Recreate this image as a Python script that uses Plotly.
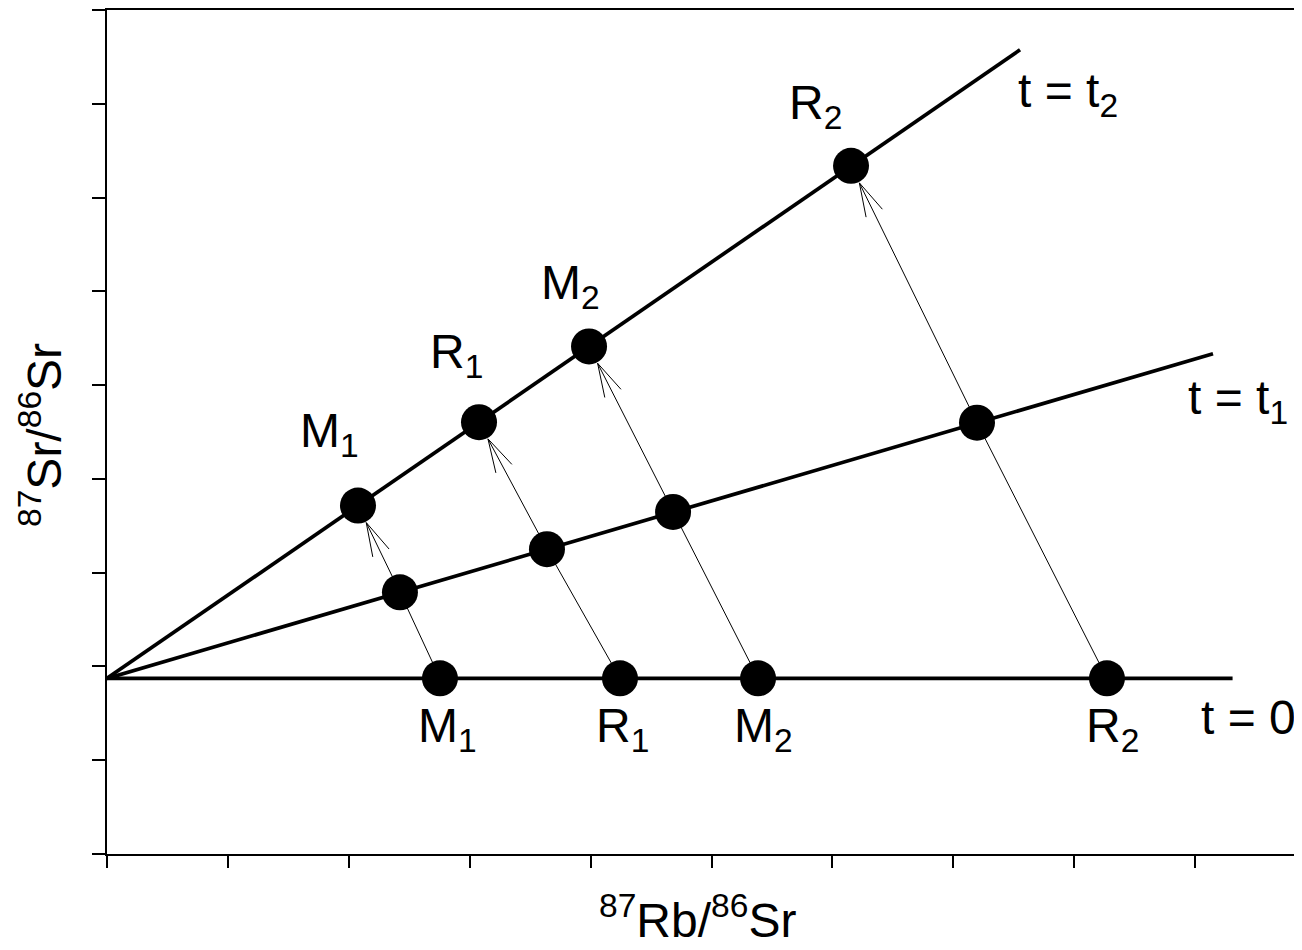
import math
import plotly.graph_objects as go

# ---------------- data ----------------
mineral_labels = ["M<sub>1</sub>", "R<sub>1</sub>", "M<sub>2</sub>", "R<sub>2</sub>"]
rb_t0 = [2.754, 4.243, 5.385, 8.271]
sr_t0 = [1.873, 1.873, 1.873, 1.873]
rb_t1 = [2.423, 3.639, 4.682, 7.196]
sr_t1 = [2.791, 3.251, 3.647, 4.599]
rb_t2 = [2.076, 3.077, 3.987, 6.154]
sr_t2 = [3.716, 4.605, 5.413, 7.338]

iso_labels = ["t = 0", "t = t<sub>1</sub>", "t = t<sub>2</sub>"]
iso_x_start = [0.0, 0.0, 0.0]
iso_y_start = [1.873, 1.873, 1.873]
iso_x_end = [9.31, 9.148, 7.552]
iso_y_end = [1.873, 5.335, 8.576]

x_ticks = [0, 1, 2, 3, 4, 5, 6, 7, 8, 9]
y_ticks = [0, 1, 2, 3, 4, 5, 6, 7, 8, 9]

# ---------------- layout geometry ----------------
OFF = 8                       # page offset of the figure (body margin)
PAGE_W, PAGE_H = 1302, 950
W, H = PAGE_W - OFF, PAGE_H - OFF
PLOT_L, PLOT_T, PLOT_B = 107, 8, 854     # plot area in page pixels
ML, MR, MT = PLOT_L - OFF, 0, PLOT_T - OFF
MB = H - (PLOT_B - OFF)
PW = W - ML - MR
PH = H - MT - MB
X_RANGE = [0, PW / 120.9]
Y_RANGE = [0, 9]
SX = PW / (X_RANGE[1] - X_RANGE[0])   # px per x unit
SY = PH / (Y_RANGE[1] - Y_RANGE[0])   # px per y unit

FONT = "Liberation Sans, Arial, Helvetica, sans-serif"
LABEL_SIZE = 48
fig = go.Figure()

# thin evolution paths with open arrowheads
TIP_OFF = 19
BARB_LEN = 35
BARB_ANG = math.radians(15)
for i in range(len(rb_t0)):
    dxp = (rb_t1[i] - rb_t2[i]) * SX
    dyp = (sr_t1[i] - sr_t2[i]) * SY
    n = math.hypot(dxp, dyp)
    ux, uy = dxp / n, dyp / n
    tipx = rb_t2[i] + TIP_OFF * ux / SX
    tipy = sr_t2[i] + TIP_OFF * uy / SY
    fig.add_trace(go.Scatter(
        x=[rb_t0[i], rb_t1[i], tipx], y=[sr_t0[i], sr_t1[i], tipy],
        mode="lines", line=dict(color="black", width=1), hoverinfo="skip",
        showlegend=False))
    bx, by = [], []
    for s in (1, -1):
        a = s * BARB_ANG
        rx = ux * math.cos(a) - uy * math.sin(a)
        ry = ux * math.sin(a) + uy * math.cos(a)
        bx += [tipx, tipx + BARB_LEN * rx / SX, None]
        by += [tipy, tipy + BARB_LEN * ry / SY, None]
    fig.add_trace(go.Scatter(
        x=bx, y=by, mode="lines", line=dict(color="black", width=1),
        hoverinfo="skip", showlegend=False))

# isochrons
for i in range(len(iso_labels)):
    fig.add_trace(go.Scatter(
        x=[iso_x_start[i], iso_x_end[i]], y=[iso_y_start[i], iso_y_end[i]],
        mode="lines", line=dict(color="black", width=3.7), hoverinfo="skip",
        showlegend=False))

# points
for xs, ys in ((rb_t0, sr_t0), (rb_t1, sr_t1), (rb_t2, sr_t2)):
    fig.add_trace(go.Scatter(
        x=xs, y=ys, mode="markers",
        marker=dict(symbol="circle", size=36, color="black",
                    line=dict(width=0)),
        showlegend=False, cliponaxis=False))

annotations = []
# labels at t=0
bottom_shift = [(8, -51), (3, -51), (5, -51), (6, -51)]
for i, lab in enumerate(mineral_labels):
    annotations.append(dict(
        x=rb_t0[i], y=sr_t0[i], text=lab, showarrow=False,
        xshift=bottom_shift[i][0], yshift=bottom_shift[i][1],
        xanchor="center", yanchor="middle", font=dict(size=LABEL_SIZE)))
# labels at t=t2
top_shift = [(-28, 72), (-23, 67), (-19, 60), (-36, 60)]
for i, lab in enumerate(mineral_labels):
    annotations.append(dict(
        x=rb_t2[i], y=sr_t2[i], text=lab, showarrow=False,
        xshift=top_shift[i][0], yshift=top_shift[i][1],
        xanchor="center", yanchor="middle", font=dict(size=LABEL_SIZE)))
# isochron labels
iso_shift = [(-34, -39), (-27, -47), (-4, -44)]
for i, lab in enumerate(iso_labels):
    annotations.append(dict(
        x=iso_x_end[i], y=iso_y_end[i], text=lab, showarrow=False,
        xshift=iso_shift[i][0], yshift=iso_shift[i][1],
        xanchor="left", yanchor="middle", font=dict(size=LABEL_SIZE)))

# axis titles (page positions converted to paper coordinates)
annotations.append(dict(
    xref="paper", yref="paper", x=(697 - PLOT_L) / PW, y=0,
    yshift=-31, xanchor="center", yanchor="top", showarrow=False,
    text="<sup>87</sup>Rb/<sup>86</sup>Sr", font=dict(size=48)))
annotations.append(dict(
    xref="paper", yref="paper", x=0, y=(PLOT_B - 434) / PH,
    xshift=41 - PLOT_L, xanchor="center", yanchor="middle", showarrow=False,
    textangle=-90, text="<sup>87</sup>Sr/<sup>86</sup>Sr",
    font=dict(size=48)))

fig.update_layout(
    width=W, height=H,
    margin=dict(l=ML, r=MR, t=MT, b=MB, pad=0),
    paper_bgcolor="white", plot_bgcolor="white",
    font=dict(family=FONT, color="black"),
    showlegend=False,
    annotations=annotations,
    xaxis=dict(range=X_RANGE, tickvals=x_ticks, showticklabels=False,
               ticks="outside", ticklen=12, tickwidth=1.5, tickcolor="black",
               showline=True, linecolor="black", linewidth=1.5, mirror=True,
               showgrid=False, zeroline=False, fixedrange=True),
    yaxis=dict(range=Y_RANGE, tickvals=y_ticks, showticklabels=False,
               ticks="outside", ticklen=13, tickwidth=1.5, tickcolor="black",
               showline=True, linecolor="black", linewidth=1.5,
               showgrid=False, zeroline=False, fixedrange=True),
)

fig.write_html("out.html")
